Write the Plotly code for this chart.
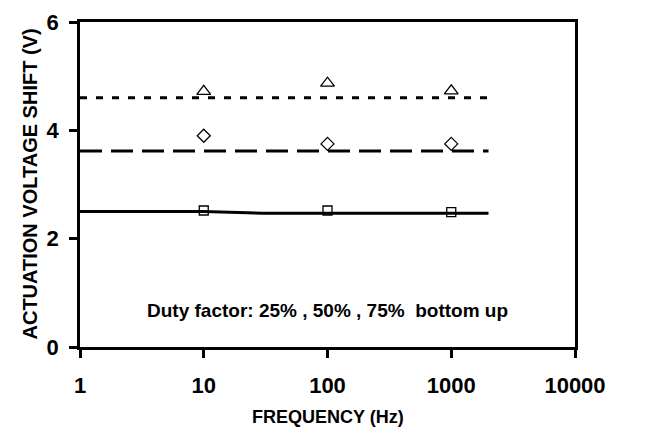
import plotly.graph_objects as go

# Measured actuation voltage shift vs. switching frequency
freq = [10, 100, 1000]
shift_25 = [2.52, 2.52, 2.49]
shift_50 = [3.90, 3.75, 3.75]
shift_75 = [4.72, 4.87, 4.73]

# Model curves for each duty factor
fit_freq = [1, 10, 30, 100, 1000, 2000]
fit_25 = [2.50, 2.50, 2.47, 2.47, 2.47, 2.47]
fit_50 = [3.62, 3.62, 3.62, 3.62, 3.62, 3.62]
fit_75 = [4.60, 4.60, 4.60, 4.60, 4.60, 4.60]

x_ticks = [1, 10, 100, 1000, 10000]
x_tick_text = ["1", "10", "100", "1000", "10000"]
y_ticks = [0, 2, 4, 6]
y_tick_text = ["0", "2", "4", "6"]

FONT = "Liberation Sans, Arial, sans-serif"


def bold(labels):
    return [f"<b>{t}</b>" for t in labels]


fig = go.Figure()

for ys, dash in [(fit_25, "solid"), (fit_50, "22px,9px"), (fit_75, "7px,9px")]:
    fig.add_trace(go.Scatter(
        x=fit_freq, y=ys, mode="lines",
        line=dict(color="black", width=3, dash=dash),
        showlegend=False, hoverinfo="skip",
    ))

for ys, sym, sz in [(shift_25, "square-open", 9), (shift_50, "diamond-open", 10), (shift_75, "triangle-up-open", 12)]:
    fig.add_trace(go.Scatter(
        x=freq, y=ys, mode="markers",
        marker=dict(symbol=sym, size=sz, color="black", line=dict(width=1.3, color="black")),
        showlegend=False,
    ))

fig.add_annotation(
    x=2, y=0.68, xref="x", yref="y",
    text="<b>Duty factor: 25% , 50% , 75%  bottom up</b>",
    showarrow=False, font=dict(family=FONT, size=19, color="black"),
)

# Axis titles placed at fixed offsets from the plot frame
fig.add_annotation(
    x=0.5, y=0, xref="paper", yref="paper", yanchor="middle", yshift=-70,
    text="<b>FREQUENCY (Hz)</b>", showarrow=False,
    font=dict(family=FONT, size=18, color="black"),
)
fig.add_annotation(
    x=0, y=0.5, xref="paper", yref="paper", xanchor="center", xshift=-51,
    text="<b>ACTUATION VOLTAGE SHIFT (V)</b>", textangle=-90, showarrow=False,
    font=dict(family=FONT, size=20, color="black"),
)

fig.update_xaxes(
    type="log", range=[0, 4],
    tickvals=x_ticks, ticktext=bold(x_tick_text),
    ticks="outside", ticklen=8, tickwidth=2.5, tickcolor="black",
    tickfont=dict(family=FONT, size=22, color="black"),
    ticklabelstandoff=9,
    showline=True, linewidth=2.5, linecolor="black", mirror=True,
    showgrid=False, zeroline=False, automargin=False,
)
fig.update_yaxes(
    range=[0, 6], tickvals=y_ticks, ticktext=bold(y_tick_text),
    ticks="outside", ticklen=8, tickwidth=2.5, tickcolor="black",
    tickfont=dict(family=FONT, size=22, color="black"),
    ticklabelstandoff=6,
    showline=True, linewidth=2.5, linecolor="black", mirror=True,
    showgrid=False, zeroline=False, automargin=False,
)

fig.update_layout(
    width=655, height=434,
    margin=dict(l=80, r=80, t=22, b=87),
    paper_bgcolor="white", plot_bgcolor="white",
)

fig.write_html("out.html")
